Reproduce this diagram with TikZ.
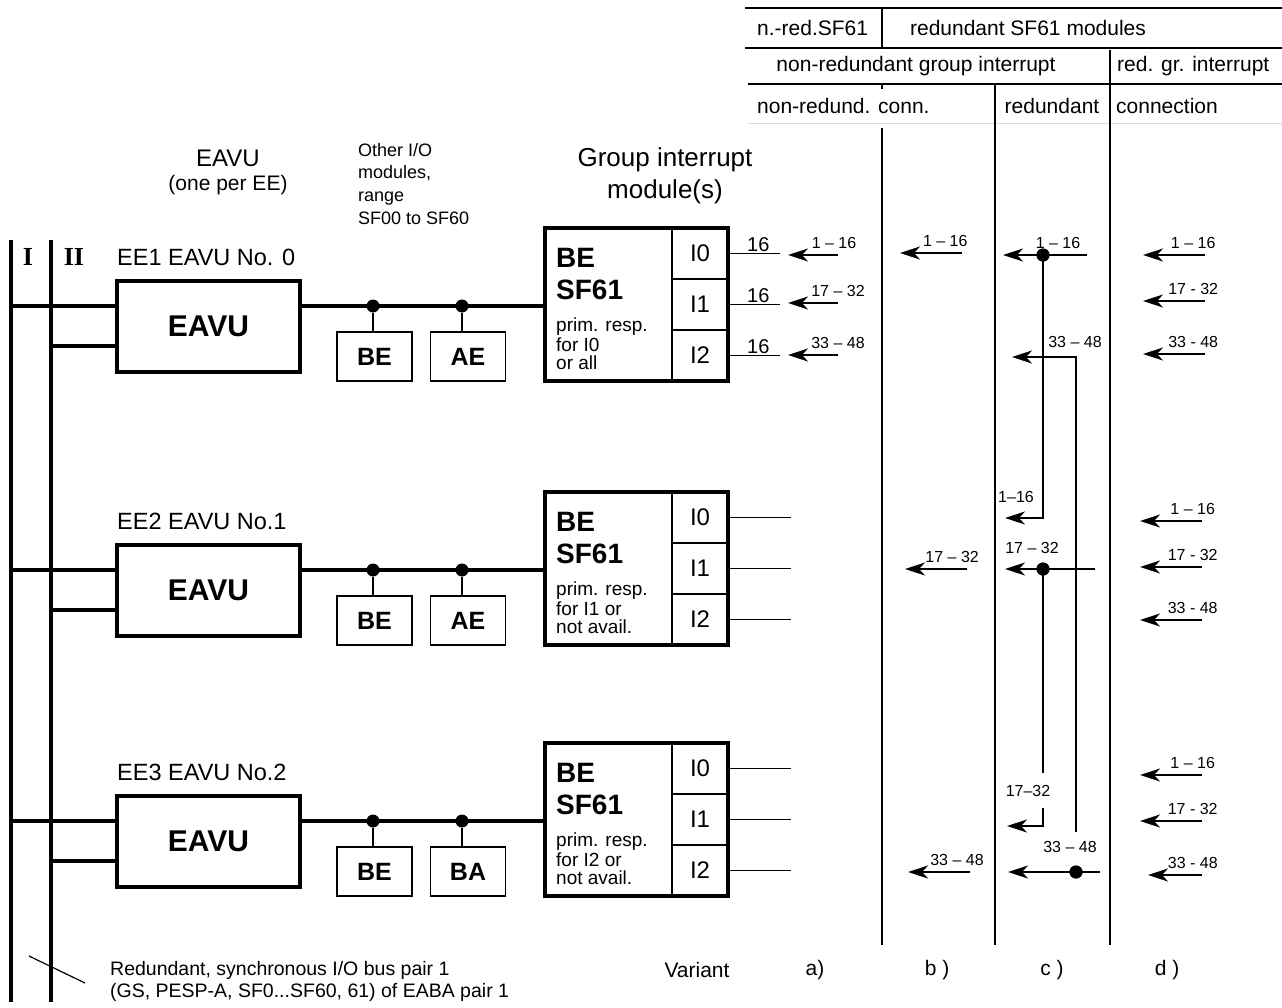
\documentclass[tikz,border=0pt]{standalone}
\usepackage{fontspec}
\setmainfont{Liberation Sans}
\newfontfamily\romfont{Liberation Serif}
\usetikzlibrary{arrows.meta}

\tikzset{
	bus/.style={line width=3.3pt},
	thinl/.style={line width=1.5pt},
	tline/.style={line width=2pt},
	eavu/.style={draw, line width=4pt, minimum width=183pt, minimum height=91pt, font=\fontsize{30}{30}\selectfont\bfseries},
	iobox/.style={draw, line width=1.6pt, minimum width=75pt, minimum height=49pt, font=\fontsize{25}{25}\selectfont\bfseries},
	gim/.style={draw, line width=4pt, minimum width=183pt, minimum height=153pt},
	cell/.style={draw, line width=1.5pt, minimum width=56pt, minimum height=51pt, font=\fontsize{24}{24}\selectfont},
	lbl/.style={inner sep=0pt, font=\fontsize{21}{24}\selectfont},
	rng/.style={inner sep=0pt, font=\fontsize{16}{16}\selectfont},
	mbold/.style={inner sep=0pt, anchor=west, font=\fontsize{28}{28}\selectfont\bfseries},
	mtext/.style={inner sep=0pt, anchor=west, font=\fontsize{19}{19}\selectfont},
	roman/.style={inner sep=0pt, font=\romfont\bfseries\fontsize{26}{26}\selectfont},
	arr/.style={line width=1.8pt, -{Stealth[length=20pt,width=13pt,inset=6pt]}},
	jdot/.style={circle, fill, inner sep=0pt, minimum size=13pt},
}

\begin{document}
\begin{tikzpicture}[x=1pt,y=-1pt]
	\useasboundingbox (0,0) rectangle (1282,1007);

	% table head
	\draw[tline] (745,8) -- (1282,8);
	\draw[tline] (745,48) -- (1282,48);
	\draw[tline] (748,84) -- (1282,84);
	\draw[gray!30, line width=0.8pt] (748,123) -- (1282,123);
	\draw[thinl] (882,8) -- (882,48);
	\draw[thinl] (882,84) -- (882,89);
	\draw[thinl] (882,128) -- (882,945);
	\draw[thinl] (995,84) -- (995,945);
	\draw[thinl] (1110,50) -- (1110,945);
	\node[lbl, anchor=west] (nred) at (757,28) {n.-red.SF61};
	\node[lbl] (redmod) at (1028,28) {redundant SF61 modules};
	\node[lbl] (nrgi) at (916,66) {non-redundant group interrupt};
	\node[lbl, anchor=west] (rgi) at (1117,66) {red. gr. interrupt};
	\node[lbl, anchor=west] (nrc) at (757,106) {non-redund. conn.};
	\node[lbl] (redc) at (1052,106) {redundant};
	\node[lbl, anchor=west] (conn) at (1116,106) {connection};

	% headings
	\node[lbl, font=\fontsize{24}{24}\selectfont] (hEAVU) at (228,158) {EAVU};
	\node[lbl, font=\fontsize{21}{21}\selectfont] (hone) at (228,185) {(one per EE)};
	\node[lbl, anchor=north west, align=left, font=\fontsize{18}{22.7}\selectfont] (hio) at (358,143) {Other I/O\\modules,\\range\\SF00 to SF60};
	\node[lbl, align=center, font=\fontsize{26}{32}\selectfont] (hgim) at (665,176) {Group interrupt\\module(s)};

	% bus pair
	\coordinate (busI) at (11,240);
	\coordinate (busII) at (51,240);
	\draw[bus] (busI) -- (11,1002);
	\draw[bus] (busII) -- (51,1002);
	\node[roman] (lI) at (28,257) {I};
	\node[roman] (lII) at (74,257) {II};
	\draw[line width=1.2pt] (29,956) -- (85,983);
	\node[lbl, anchor=west, align=left, font=\fontsize{19.5}{22}\selectfont] (buspair) at (110,981) {Redundant, synchronous I/O bus pair 1\\(GS, PESP-A, SF0...SF60, 61) of EABA pair 1};

	% EE1
	\node[lbl, anchor=west, font=\fontsize{23.5}{23.5}\selectfont] (ee1) at (117,257) {EE1 EAVU No. 0};
	\node[eavu] (eavu1) at (208.5,326.5) {EAVU};
	\coordinate (k1) at (117,306);
	\coordinate (m1) at (117,346);
	\node[cell] (g1i0) at (700,253.5) {I0};
	\node[cell] (g1i1) at (700,304.5) {I1};
	\node[cell] (g1i2) at (700,355.5) {I2};
	\node[gim] (gim1) at (636.5,304.5) {};
	\draw[bus] (k1 -| busI) -- (eavu1.west |- k1);
	\draw[bus] (m1 -| busII) -- (m1);
	\draw[bus] (eavu1.east |- k1) -- (gim1.west |- k1);
	\node[jdot] (j1a) at (373,306) {};
	\node[jdot] (j1b) at (462,306) {};
	\node[iobox] (be1) at (374.5,356.5) {BE};
	\node[iobox] (ae1) at (468,356.5) {AE};
	\draw[thinl] (j1a) -- (j1a |- be1.north);
	\draw[thinl] (j1b) -- (j1b |- ae1.north);
	\node[mbold] (g1be) at (556,258) {BE};
	\node[mbold] (g1sf) at (556,290) {SF61};
	\node[mtext] (g1p) at (556,327) {prim. resp.};
	\node[mtext] (g1f) at (556,345) {for I0};
	\node[mtext] (g1o) at (556,363) {or all};
	\draw[thinl] (g1i0.east) -- ++(51,0) node[pos=0.58, above=1pt, lbl, font=\fontsize{20}{20}\selectfont] (s1a) {16};
	\draw[thinl] (g1i1.east) -- ++(51,0) node[pos=0.58, above=1pt, lbl, font=\fontsize{20}{20}\selectfont] (s1b) {16};
	\draw[thinl] (g1i2.east) -- ++(51,0) node[pos=0.58, above=1pt, lbl, font=\fontsize{20}{20}\selectfont] (s1c) {16};

	% EE2
	\node[lbl, anchor=west, font=\fontsize{23.5}{23.5}\selectfont] (ee2) at (117,521) {EE2 EAVU No.1};
	\node[eavu] (eavu2) at (208.5,590.5) {EAVU};
	\coordinate (k2) at (117,570);
	\coordinate (m2) at (117,610);
	\node[cell] (g2i0) at (700,517.5) {I0};
	\node[cell] (g2i1) at (700,568.5) {I1};
	\node[cell] (g2i2) at (700,619.5) {I2};
	\node[gim] (gim2) at (636.5,568.5) {};
	\draw[bus] (k2 -| busI) -- (eavu2.west |- k2);
	\draw[bus] (m2 -| busII) -- (m2);
	\draw[bus] (eavu2.east |- k2) -- (gim2.west |- k2);
	\node[jdot] (j2a) at (373,570) {};
	\node[jdot] (j2b) at (462,570) {};
	\node[iobox] (be2) at (374.5,620.5) {BE};
	\node[iobox] (ae2) at (468,620.5) {AE};
	\draw[thinl] (j2a) -- (j2a |- be2.north);
	\draw[thinl] (j2b) -- (j2b |- ae2.north);
	\node[mbold] (g2be) at (556,522) {BE};
	\node[mbold] (g2sf) at (556,554) {SF61};
	\node[mtext] (g2p) at (556,591) {prim. resp.};
	\node[mtext] (g2f) at (556,609) {for I1 or};
	\node[mtext] (g2o) at (556,627) {not avail.};
	\draw[thinl] (g2i0.east) -- ++(62,0);
	\draw[thinl] (g2i1.east) -- ++(62,0);
	\draw[thinl] (g2i2.east) -- ++(62,0);

	% EE3
	\node[lbl, anchor=west, font=\fontsize{23.5}{23.5}\selectfont] (ee3) at (117,772) {EE3 EAVU No.2};
	\node[eavu] (eavu3) at (208.5,841.5) {EAVU};
	\coordinate (k3) at (117,821);
	\coordinate (m3) at (117,861);
	\node[cell] (g3i0) at (700,768.5) {I0};
	\node[cell] (g3i1) at (700,819.5) {I1};
	\node[cell] (g3i2) at (700,870.5) {I2};
	\node[gim] (gim3) at (636.5,819.5) {};
	\draw[bus] (k3 -| busI) -- (eavu3.west |- k3);
	\draw[bus] (m3 -| busII) -- (m3);
	\draw[bus] (eavu3.east |- k3) -- (gim3.west |- k3);
	\node[jdot] (j3a) at (373,821) {};
	\node[jdot] (j3b) at (462,821) {};
	\node[iobox] (be3) at (374.5,871.5) {BE};
	\node[iobox] (ba3) at (468,871.5) {BA};
	\draw[thinl] (j3a) -- (j3a |- be3.north);
	\draw[thinl] (j3b) -- (j3b |- ba3.north);
	\node[mbold] (g3be) at (556,773) {BE};
	\node[mbold] (g3sf) at (556,805) {SF61};
	\node[mtext] (g3p) at (556,842) {prim. resp.};
	\node[mtext] (g3f) at (556,860) {for I2 or};
	\node[mtext] (g3o) at (556,878) {not avail.};
	\draw[thinl] (g3i0.east) -- ++(62,0);
	\draw[thinl] (g3i1.east) -- ++(62,0);
	\draw[thinl] (g3i2.east) -- ++(62,0);

	% variant a)
	\draw[arr] (838,255) coordinate (va1) -- ++(-50,0) node[pos=0.08, above=5pt, rng] (la1) {1 -- 16};
	\draw[arr] (838,303) coordinate (va2) -- ++(-50,0) node[pos=0, above=5pt, rng] (la2) {17 -- 32};
	\draw[arr] (838,355) coordinate (va3) -- ++(-50,0) node[pos=0, above=5pt, rng] (la3) {33 -- 48};

	% variant b)
	\draw[arr] (962,253) coordinate (vb1) -- ++(-62,0) node[pos=0.27, above=5pt, rng] (lb1) {1 -- 16};
	\draw[arr] (967,569) coordinate (vb2) -- ++(-62,0) node[pos=0.24, above=5pt, rng] (lb2) {17 -- 32};
	\draw[arr] (970,872) coordinate (vb3) -- ++(-62,0) node[pos=0.21, above=5pt, rng] (lb3) {33 -- 48};

	% variant c)
	\node[jdot] (cj1) at (1043,255) {};
	\node[jdot] (cj2) at (1043,569) {};
	\node[jdot] (cj3) at (1076,872) {};
	\draw[arr] (1087,255) coordinate (vc1) -- ++(-84,0);
	\draw[arr] (cj1.center) |- ++(-38,263);
	\draw[arr] (1076,832) coordinate (vc3) |- ++(-64,-475);
	\draw[arr] (1095,569) coordinate (vc2) -- ++(-90,0);
	\draw[thinl] (cj2.center) -- ++(0,204) coordinate (c2a);
	\draw[arr] (1043,808) coordinate (c2b) |- ++(-36,18);
	\draw[arr] (1100,872) coordinate (vc4) -- ++(-92,0);
	\node[jdot] (cj1b) at (cj1) {};
	\node[jdot] (cj2b) at (cj2) {};
	\node[jdot] (cj3b) at (cj3) {};
	\node[rng] (lc1) at (1058,243) {1 -- 16};
	\node[rng] (lc2) at (1016,497) {1--16};
	\node[rng] (lc3) at (1075,342) {33 -- 48};
	\node[rng] (lc4) at (1032,548) {17 -- 32};
	\node[rng] (lc5) at (1028,791) {17--32};
	\node[rng] (lc6) at (1070,847) {33 -- 48};

	% variant d)
	\draw[arr] (1205,255) coordinate (vd1) -- ++(-62,0) node[pos=0.19, above=5pt, rng] (ld1) {1 -- 16};
	\draw[arr] (1205,301) coordinate (vd2) -- ++(-62,0) node[pos=0.19, above=5pt, rng] (ld2) {17 - 32};
	\draw[arr] (1205,354) coordinate (vd3) -- ++(-62,0) node[pos=0.19, above=5pt, rng] (ld3) {33 - 48};
	\draw[arr] (1202,521) coordinate (vd4) -- ++(-62,0) node[pos=0.15, above=5pt, rng] (ld4) {1 -- 16};
	\draw[arr] (1202,567) coordinate (vd5) -- ++(-62,0) node[pos=0.15, above=5pt, rng] (ld5) {17 - 32};
	\draw[arr] (1202,620) coordinate (vd6) -- ++(-62,0) node[pos=0.15, above=5pt, rng] (ld6) {33 - 48};
	\draw[arr] (1202,775) coordinate (vd7) -- ++(-62,0) node[pos=0.15, above=5pt, rng] (ld7) {1 -- 16};
	\draw[arr] (1202,821) coordinate (vd8) -- ++(-62,0) node[pos=0.15, above=5pt, rng] (ld8) {17 - 32};
	\draw[arr] (1202,875) coordinate (vd9) -- ++(-54,0) node[pos=0.17, above=5pt, rng] (ld9) {33 - 48};

	% variant labels
	\node[lbl] (var) at (697,970) {Variant};
	\node[lbl] (vara) at (815,970) {a)};
	\node[lbl] (varb) at (937,970) {b )};
	\node[lbl] (varc) at (1052,970) {c )};
	\node[lbl] (vard) at (1167,970) {d )};
\end{tikzpicture}
\end{document}
